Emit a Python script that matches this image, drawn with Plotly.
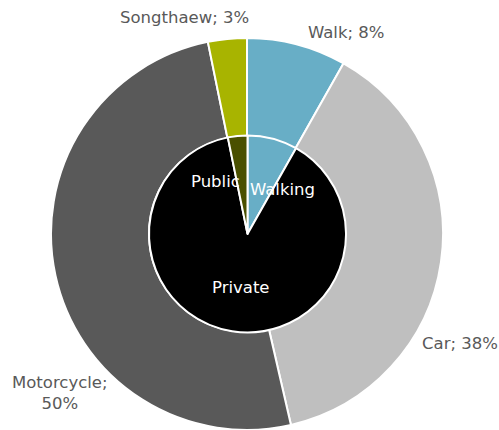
import plotly.graph_objects as go

# outer ring: mode of travel (clockwise from 12 o'clock)
modes = ["Walk", "Car", "Motorcycle", "Songthaew"]
mode_share = [8.2, 38.2, 50.4, 3.2]
mode_colors = ["#68aec6", "#bfbfbf", "#595959", "#a8b400"]

# inner pie: mode group
groups = ["Walking", "Private", "Public"]
group_share = [8.2, 88.6, 3.2]
group_colors = ["#68aec6", "#000000", "#4a5000"]

FONT = "'DejaVu Sans', sans-serif"
INK = "#595959"

fig = go.Figure()
fig.add_trace(go.Pie(
    labels=modes, values=mode_share, sort=False, direction="clockwise",
    rotation=0, hole=0.5, textinfo="none", hoverinfo="label+percent",
    marker=dict(colors=mode_colors, line=dict(color="white", width=2)),
    domain=dict(x=[0.1022, 0.8878], y=[0.0, 0.912]),
))
fig.add_trace(go.Pie(
    labels=groups, values=group_share, sort=False, direction="clockwise",
    rotation=0, textinfo="none", hoverinfo="label+percent",
    marker=dict(colors=group_colors, line=dict(color="white", width=2)),
    domain=dict(x=[0.2986, 0.6934], y=[0.2269, 0.6852]),
))

total = sum(mode_share)
pct = [f"{round(v / total * 100)}%" for v in mode_share]
outer_pos = [(346, 32), (460, 343), (60, 393), (184, 18)]
for name, p, (x, y) in zip(modes, pct, outer_pos):
    text = f"{name};<br>{p}" if name == "Motorcycle" else f"{name}; {p}"
    fig.add_annotation(x=x / 499, y=1 - y / 430, xref="paper", yref="paper",
                       xanchor="center", yanchor="middle",
                       text=text, showarrow=False, align="center",
                       font=dict(family=FONT, size=16.5, color=INK))

inner_pos = [(282, 189), (241, 287), (215, 182)]
for name, (x, y) in zip(groups, inner_pos):
    fig.add_annotation(x=x / 499, y=1 - y / 430, xref="paper", yref="paper",
                       xanchor="center", yanchor="middle",
                       text=name, showarrow=False,
                       font=dict(family=FONT, size=16.5, color="white"))

fig.update_layout(
    width=499, height=430, margin=dict(l=0, r=0, t=0, b=0),
    paper_bgcolor="white", plot_bgcolor="white", showlegend=False,
    font=dict(family=FONT, color=INK),
)
fig.write_html("out.html", config={"displayModeBar": False},
               post_script="document.body.style.margin='0';")
